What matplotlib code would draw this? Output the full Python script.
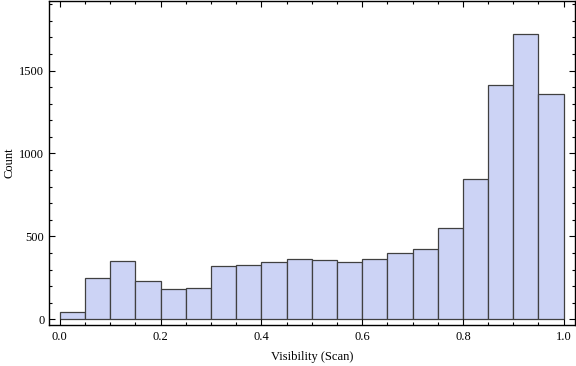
import numpy as np
import matplotlib
matplotlib.use("Agg")
import matplotlib.pyplot as plt
from matplotlib.ticker import MultipleLocator

# histogram bins (width 0.05) and counts
bin_edges = np.round(np.arange(0, 1.0001, 0.05), 2)
counts = [42, 247, 349, 229, 181, 187, 319, 325, 345, 361,
          355, 345, 361, 403, 427, 548, 848, 1414, 1721, 1360]

plt.rcParams['font.family'] = ['Liberation Serif', 'DejaVu Serif']

fig = plt.figure(figsize=(5.76, 3.66), dpi=100)
ax = fig.add_axes([48.5/576, 1 - 325/366, (575 - 48.5)/576, 325/366 - 0.002])

ax.bar(bin_edges[:-1], counts, width=0.05, align='edge',
       color='#ccd3f5', edgecolor='#404040', linewidth=0.9)

ax.set_xlim(-0.0225, 1.0225)
ax.set_ylim(-34, 1921)

ax.xaxis.set_major_locator(MultipleLocator(0.2))
ax.xaxis.set_minor_locator(MultipleLocator(0.05))
ax.yaxis.set_major_locator(MultipleLocator(500))
ax.yaxis.set_minor_locator(MultipleLocator(100))
ax.set_xticks(np.arange(0, 1.01, 0.2))
ax.set_xticklabels(['0.0', '0.2', '0.4', '0.6', '0.8', '1.0'])

ax.tick_params(which='both', direction='in', top=True, right=True,
               labelsize=9, width=0.8, color='black')
ax.tick_params(which='major', length=4.5)
ax.tick_params(which='minor', length=2.5)
ax.tick_params(axis='x', pad=4)
ax.tick_params(axis='y', pad=3)

for s in ax.spines.values():
    s.set_linewidth(1.0)

ax.set_xlabel('Visibility (Scan)', fontsize=9, labelpad=6)
ax.set_ylabel('Count', fontsize=9, labelpad=3)

fig.savefig('out.png', dpi=100)
